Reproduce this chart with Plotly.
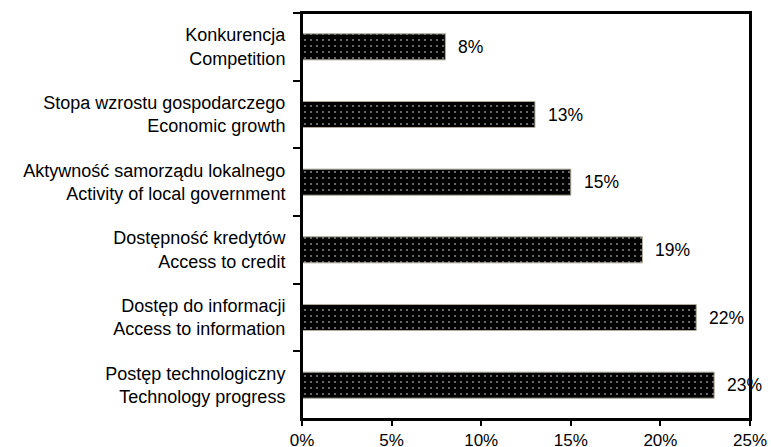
import plotly.graph_objects as go

labels_pl = ["Konkurencja", "Stopa wzrostu gospodarczego", "Aktywność samorządu lokalnego",
             "Dostępność kredytów", "Dostęp do informacji", "Postęp technologiczny"]
labels_en = ["Competition", "Economic growth", "Activity of local government",
             "Access to credit", "Access to information", "Technology progress"]
values = [0.08, 0.13, 0.15, 0.19, 0.22, 0.23]
value_text = ["8%", "13%", "15%", "19%", "22%", "23%"]
x_ticks = [0, 0.05, 0.10, 0.15, 0.20, 0.25]
x_ticktext = ["0%", "5%", "10%", "15%", "20%", "25%"]

cats = [f"{p}<br>{e}" for p, e in zip(labels_pl, labels_en)]

family = "Liberation Sans, Arial, sans-serif"
font = dict(family=family, size=18, color="black")

fig = go.Figure(go.Bar(
    x=values, y=cats, orientation="h", width=0.385,
    marker=dict(color="black", line=dict(color="#b0ab9c", width=1),
                pattern=dict(shape=".", fgcolor="white", bgcolor="black", size=6, solidity=0.1)),
    hoverinfo="skip",
))

for c, v, t in zip(cats, values, value_text):
    fig.add_annotation(x=v, y=c, text=t, showarrow=False, xanchor="left", xshift=11,
                       yshift=0, font=dict(family=family, size=17.5, color="black"))

fig.update_layout(
    width=771, height=447,
    margin=dict(l=302, r=21, t=13, b=28),
    plot_bgcolor="white", paper_bgcolor="white",
    font=font, showlegend=False,
    shapes=[dict(type="rect", xref="paper", yref="paper", x0=0, x1=1, y0=0, y1=1,
                 line=dict(color="black", width=2), fillcolor="rgba(0,0,0,0)", layer="above")],
)
fig.update_xaxes(range=[0, 0.25], tickvals=x_ticks, ticktext=x_ticktext, automargin=False,
                 showline=True, linecolor="black", linewidth=2, mirror=True,
                 ticks="outside", ticklen=5, tickwidth=2, tickcolor="black",
                 showgrid=False, zeroline=False, tickfont=dict(family=family, size=17))
fig.update_yaxes(autorange="reversed", automargin=False, showline=True, linecolor="black",
                 linewidth=2, mirror=True,
                 ticks="outside", ticklen=7, tickwidth=2, tickcolor="black", tickson="boundaries",
                 showgrid=False, ticklabelstandoff=11)

# remove the default 8px page margin so the figure fills the window exactly
fig.write_html("out.html", config={"displayModeBar": False},
               post_script="document.body.style.margin='0';document.body.style.overflow='hidden';")
